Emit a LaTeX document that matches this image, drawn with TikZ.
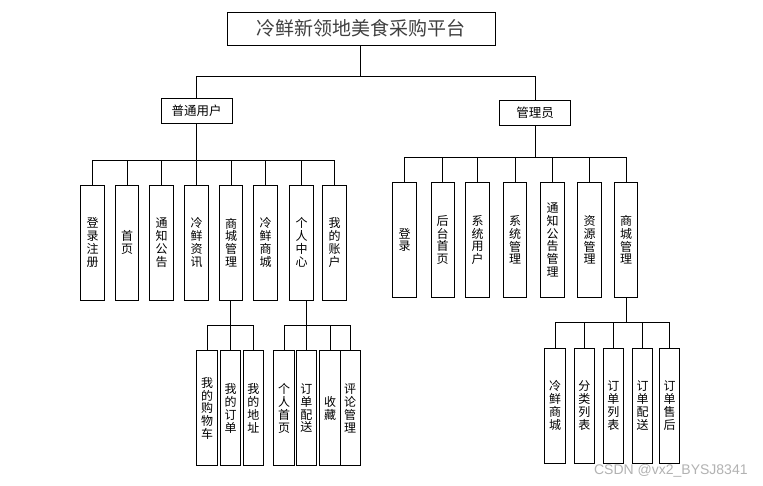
\documentclass[tikz,border=0pt]{standalone}
\usepackage{fontspec}
\setmainfont{Liberation Sans}
\newfontfamily\cjk{Noto Sans CJK SC}
\begin{document}
\begin{tikzpicture}[x=1pt,y=-1pt,line width=0.8pt,
  vbox/.style={draw,inner sep=0pt,align=center,font=\cjk\fontsize{12}{12.8}\selectfont,minimum width=23.6pt,minimum height=115pt},
  sbox/.style={vbox,minimum width=20.3pt},
  hbox/.style={draw,inner sep=0pt,font=\cjk\fontsize{12.5}{13}\selectfont,minimum width=71pt,minimum height=25pt},
  tbox/.style={draw,inner sep=0pt,font=\cjk\fontsize{19}{20}\selectfont,text=black!75,minimum width=268pt,minimum height=33pt}]
\useasboundingbox (0,0) rectangle (763,485);
\fill[white] (0,0) rectangle (763,485);
% title and level 1
\node[tbox] (title) at (361,28.5) {冷鲜新领地美食采购平台};
\node[hbox] (u) at (196.5,110.5) {普通用户};
\node[hbox] (a) at (535,113.2) {管理员};
\coordinate (rbus) at (360,76);
\draw (rbus |- title.south) -- (rbus);
\draw (u.north) |- (rbus);
\draw (a.north) |- (rbus);
% user children
\node[vbox] (u1) at (92.5,242.5) {登\\录\\注\\册};
\node[vbox] (u2) at (127,242.5) {首\\页};
\node[vbox] (u3) at (161.5,242.5) {通\\知\\公\\告};
\node[vbox] (u4) at (196.5,242.5) {冷\\鲜\\资\\讯};
\node[vbox] (u5) at (231,242.5) {商\\城\\管\\理};
\node[vbox] (u6) at (265.5,242.5) {冷\\鲜\\商\\城};
\node[vbox] (u7) at (301.5,242.5) {个\\人\\中\\心};
\node[vbox] (u8) at (334.5,242.5) {我\\的\\账\\户};
\coordinate (ubus) at (196.5,160);
\draw (u.south) -- (ubus);
\foreach \n in {u1,u2,u3,u4,u5,u6,u7,u8} \draw (\n.north) |- (ubus);
% admin children
\node[vbox] (a1) at (404.5,240) {登\\录};
\node[vbox] (a2) at (442.7,240) {后\\台\\首\\页};
\node[vbox] (a3) at (477.5,240) {系\\统\\用\\户};
\node[vbox] (a4) at (515,240) {系\\统\\管\\理};
\node[vbox] (a5) at (552.5,240) {通\\知\\公\\告\\管\\理};
\node[vbox] (a6) at (589.5,240) {资\\源\\管\\理};
\node[vbox] (a7) at (626,240) {商\\城\\管\\理};
\coordinate (abus) at (535,157);
\draw (a.south) -- (abus);
\foreach \n in {a1,a2,a3,a4,a5,a6,a7} \draw (\n.north) |- (abus);
% user shop management children
\node[sbox] (s1) at (207,408.3) {我\\的\\购\\物\\车};
\node[sbox] (s2) at (230.7,408.3) {我\\的\\订\\单};
\node[sbox] (s3) at (253.3,408.3) {我\\的\\地\\址};
\coordinate (sbus) at (230.7,325);
\draw (sbus |- u5.south) -- (sbus);
\foreach \n in {s1,s2,s3} \draw (\n.north) |- (sbus);
% personal center children
\node[sbox] (p1) at (284,408.3) {个\\人\\首\\页};
\node[sbox] (p2) at (306.3,408.3) {订\\单\\配\\送};
\node[sbox] (p3) at (330,408.3) {收\\藏};
\node[sbox] (p4) at (350.2,408.3) {评\\论\\管\\理};
\coordinate (pbus) at (306.3,325);
\draw (pbus |- u7.south) -- (pbus);
\foreach \n in {p1,p2,p3,p4} \draw (\n.north) |- (pbus);
% admin shop management children
\node[sbox] (m1) at (555,405.5) {冷\\鲜\\商\\城};
\node[sbox] (m2) at (584.3,405.5) {分\\类\\列\\表};
\node[sbox] (m3) at (613.3,405.5) {订\\单\\列\\表};
\node[sbox] (m4) at (642.5,405.5) {订\\单\\配\\送};
\node[sbox] (m5) at (669.5,405.5) {订\\单\\售\\后};
\coordinate (mbus) at (626.5,322.3);
\draw (mbus |- a7.south) -- (mbus);
\foreach \n in {m1,m2,m3,m4,m5} \draw (\n.north) |- (mbus);
% watermark
\node[font=\fontsize{14}{14}\selectfont,text=black!30,anchor=east,inner sep=0pt] (wm) at (748,471) {CSDN @vx2\_BYSJ8341};
\end{tikzpicture}
\end{document}
